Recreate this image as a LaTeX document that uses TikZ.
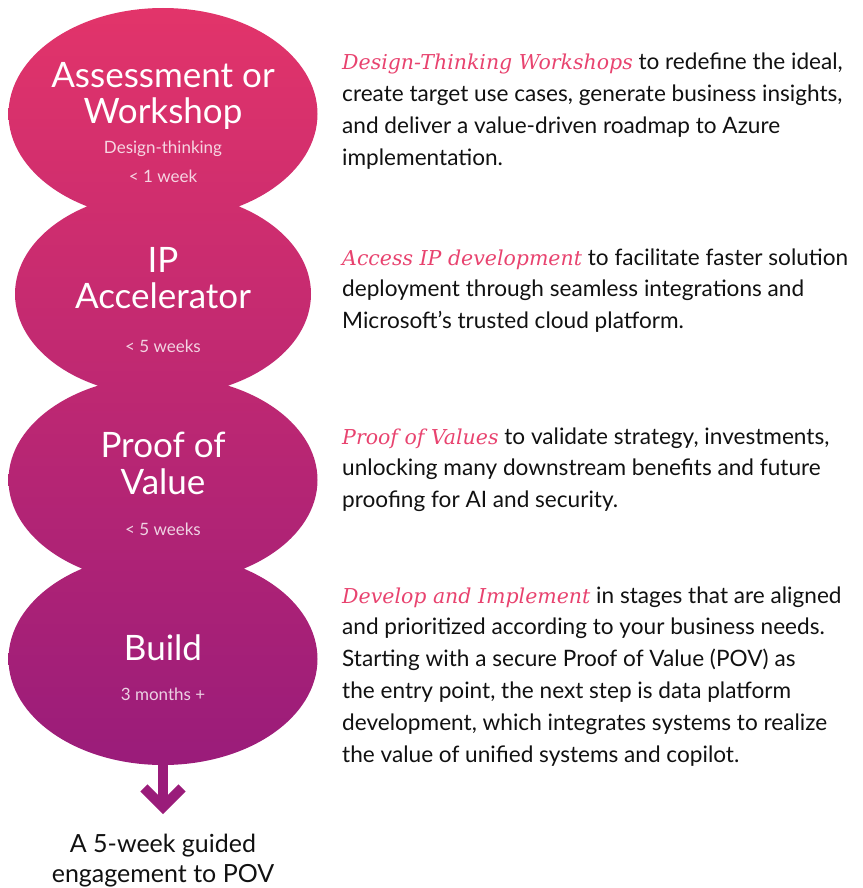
\documentclass[tikz,border=0pt]{standalone}
\usepackage{fontspec}
\setmainfont{Lato}
\newfontfamily\hlfont{DejaVu Serif}
\usetikzlibrary{positioning,arrows.meta}
\definecolor{colortop}{HTML}{E2346A}
\definecolor{colorbot}{HTML}{9A1C7A}
\definecolor{colorhl}{HTML}{E8436F}
\definecolor{colortxt}{HTML}{111111}
\tikzset{
  stage/.style={text=white, anchor=base, inner sep=0pt, font=\fontsize{35}{36}\selectfont},
  stagetime/.style={text=white, text opacity=0.8, anchor=base, inner sep=0pt, font=\fontsize{17}{20}\selectfont},
  blurb/.style={text=colortxt, anchor=base west, align=left, inner sep=0pt, font=\fontsize{22.6}{31.8}\selectfont},
  goal/.style={text=colortxt, anchor=base, inner sep=0pt, font=\fontsize{25}{30}\selectfont},
  flowarrow/.style={colorbot, line width=10pt, -{Straight Barb[length=19pt, width=38pt, line width=10pt]}}
}
\newcommand\hl[1]{{\color{colorhl}\hlfont\itshape\fontsize{20.5}{31.8}\selectfont #1}}

\begin{document}
\begin{tikzpicture}[x=1pt, y=-1pt]
\useasboundingbox (0,0) rectangle (862,888);

\begin{scope}
\clip (163,114) ellipse [x radius=154.5pt, y radius=106pt]
  (163,294) ellipse [x radius=148pt, y radius=102pt]
  (163,480) ellipse [x radius=154.5pt, y radius=104pt]
  (163,659) ellipse [x radius=154.5pt, y radius=106pt];
\shade[top color=colortop, bottom color=colorbot] (0,8) rectangle (330,765);
\end{scope}

\node[stage] (a1) at (163,88) {Assessment or};
\node[stage] (a2) at (163,124) {Workshop};
\node[stagetime] (a3) at (163,153) {Design-thinking};
\node[stagetime] (a4) at (163,182) {< 1 week};

\node[stage] (b1) at (163,272) {IP};
\node[stage] (b2) at (163,308) {Accelerator};
\node[stagetime] (b3) at (163,352) {< 5 weeks};

\node[stage] (c1) at (163,457) {Proof of};
\node[stage] (c2) at (163,494) {Value};
\node[stagetime] (c3) at (163,535) {< 5 weeks};

\node[stage] (d1) at (163,660) {Build};
\node[stagetime] (d2) at (163,700) {3 months +};

\coordinate (dend) at (163,760);
\coordinate (tip) at (163,814);
\draw[flowarrow] (dend) -- (tip);

\node[goal] (g1) at (163,852) {A 5-week guided};
\node[goal] (g2) at (163,882) {engagement to POV};

\node[blurb] (ta) at (342,165.4)
{\hl{Design-Thinking Workshops} to redefine the ideal,\\
create target use cases, generate business insights,\\
and deliver a value-driven roadmap to Azure\\
implementation.};

\node[blurb] (tb) at (342,328.6)
{\hl{Access IP development} to facilitate faster solution\\
deployment through seamless integrations and\\
Microsoft’s trusted cloud platform.};

\node[blurb] (tc) at (342,507.6)
{\hl{Proof of Values} to validate strategy, investments,\\
unlocking many downstream benefits and future\\
proofing for AI and security.};

\node[blurb] (td) at (342,762)
{\hl{Develop and Implement} in stages that are aligned\\
and prioritized according to your business needs.\\
Starting with a secure Proof of Value (POV) as\\
the entry point, the next step is data platform\\
development, which integrates systems to realize\\
the value of unified systems and copilot.};
\end{tikzpicture}
\end{document}
